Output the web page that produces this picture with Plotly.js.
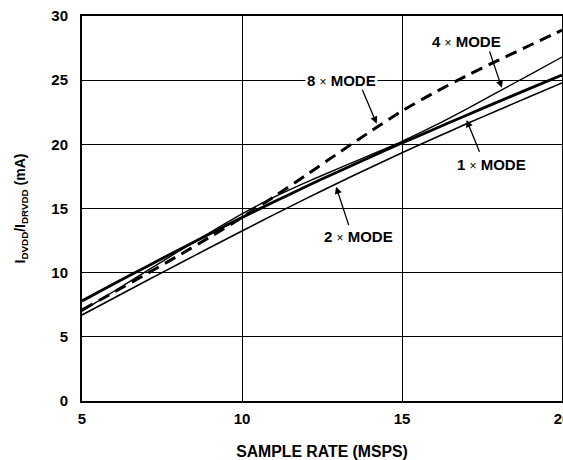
<!DOCTYPE html>
<html>
<head>
<meta charset="utf-8">
<script src="https://cdn.plot.ly/plotly-3.0.1.min.js"></script>
<style>html,body{margin:0;padding:0;background:#fff;}#chart{width:563px;height:460px;}</style>
</head>
<body>
<div id="chart"></div>
<script>
// Sample rate (MSPS)
var sampleRate = [5, 6, 7, 8, 9, 10, 11, 12, 13, 14, 15, 16, 17, 18, 19, 20];
// Supply current (mA) per interpolation mode
var mode1x = [7.8, 9.13, 10.45, 11.75, 13.03, 14.3, 15.52, 16.71, 17.87, 19.0, 20.1, 21.18, 22.25, 23.31, 24.36, 25.4];
var mode2x = [6.7, 8.03, 9.35, 10.66, 11.96, 13.25, 14.52, 15.77, 16.99, 18.18, 19.34, 20.47, 21.58, 22.66, 23.72, 24.78];
var mode4x = [7.0, 8.55, 10.1, 11.63, 13.13, 14.58, 15.88, 17.03, 18.11, 19.16, 20.23, 21.43, 22.73, 24.08, 25.44, 26.8];
var mode8x = [7.1, 8.48, 9.88, 11.31, 12.78, 14.3, 15.92, 17.6, 19.3, 20.98, 22.6, 24.02, 25.32, 26.54, 27.72, 28.9];
var xTicks = [5, 10, 15, 20];
var yTicks = [0, 5, 10, 15, 20, 25, 30];
var modeLabels = ['1', '2', '4', '8'];

var FONT = 'Liberation Sans, Arial, Helvetica, sans-serif';
function lbl(n) {
  return n + ' <span style="font-size:12px;font-weight:normal">×</span> MODE';
}

var traces = [
  {x: sampleRate, y: mode2x, mode: 'lines', line: {color: '#000', width: 1.6, shape: 'spline', smoothing: 0.6}},
  {x: sampleRate, y: mode4x, mode: 'lines', line: {color: '#000', width: 1.4, shape: 'spline', smoothing: 0.6}},
  {x: sampleRate, y: mode1x, mode: 'lines', line: {color: '#000', width: 2.8, shape: 'spline', smoothing: 0.6}},
  {x: sampleRate, y: mode8x, mode: 'lines', line: {color: '#000', width: 3, dash: '12px,7px', shape: 'spline', smoothing: 0.6}}
];

function arrow(x, y, ax, ay) {
  return {x: x, y: y, ax: ax, ay: ay, xref: 'x', yref: 'y', axref: 'x', ayref: 'y',
    text: '', showarrow: true, arrowhead: 2, arrowsize: 1.1, arrowwidth: 1.3, arrowcolor: '#000', standoff: 0, startstandoff: 0};
}
function textAnn(x, y, t, bg) {
  return {x: x, y: y, xref: 'x', yref: 'y', text: t, showarrow: false,
    font: {family: FONT, size: 15, color: '#000', weight: 'bold'},
    bgcolor: bg ? '#fff' : 'rgba(0,0,0,0)', borderpad: 1, xanchor: 'center', yanchor: 'middle'};
}

var annotations = [
  textAnn(13.11, 25.0, lbl(modeLabels[3]), true),
  arrow(14.21, 21.6, 13.74, 24.37),
  textAnn(17.03, 28.0, lbl(modeLabels[2]), false),
  arrow(18.12, 24.4, 17.72, 27.36),
  textAnn(17.8, 18.39, lbl(modeLabels[0]), false),
  arrow(17.02, 21.9, 17.44, 19.31),
  textAnn(13.625, 12.8, lbl(modeLabels[1]), false),
  arrow(12.94, 16.7, 13.35, 13.59)
];

var layout = {
  width: 563, height: 460,
  margin: {l: 82, r: 1, t: 16, b: 59, pad: 0},
  paper_bgcolor: '#fff', plot_bgcolor: '#fff',
  showlegend: false,
  font: {family: FONT, size: 15, color: '#000', weight: 'bold'},
  xaxis: {
    range: [5, 20], tickvals: xTicks, ticktext: xTicks.map(String),
    showgrid: true, gridcolor: '#000', gridwidth: 1,
    zeroline: false, showline: true, mirror: true, linecolor: '#000', linewidth: 2,
    ticks: '', ticklabelstandoff: 3, ticklabeloverflow: 'allow',
    tickfont: {family: FONT, size: 15, color: '#000', weight: 'bold'},
    title: {text: 'SAMPLE RATE (MSPS)', standoff: 20, font: {family: FONT, size: 15.8, color: '#000', weight: 'bold'}}
  },
  yaxis: {
    range: [0, 30], tickvals: yTicks, ticktext: yTicks.map(String),
    showgrid: true, gridcolor: '#000', gridwidth: 1,
    zeroline: false, showline: true, mirror: true, linecolor: '#000', linewidth: 2,
    ticks: '', ticklabelstandoff: 9, ticklabeloverflow: 'allow',
    tickfont: {family: FONT, size: 15, color: '#000', weight: 'bold'},
    title: {text: 'I<sub>DVDD</sub>/I<sub>DRVDD</sub> (mA)', standoff: 22, font: {family: FONT, size: 14, color: '#000', weight: 'bold'}}
  },
  annotations: annotations
};

Plotly.newPlot('chart', traces, layout, {staticPlot: true, displayModeBar: false});
</script>
</body>
</html>
